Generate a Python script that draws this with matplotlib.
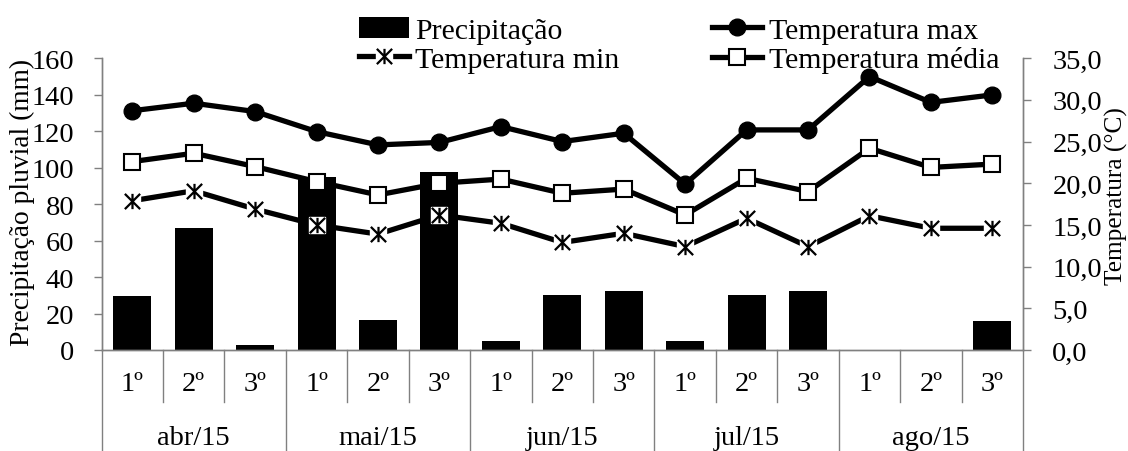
import matplotlib
matplotlib.use('Agg')
import matplotlib.pyplot as plt
import matplotlib.transforms as mtransforms
from matplotlib.path import Path
import numpy as np

plt.rcParams['font.family'] = ['Liberation Serif', 'DejaVu Serif']
plt.rcParams['font.size'] = 20.5

# Dados decendiais (abr a ago/2015)
meses = ['abr/15', 'mai/15', 'jun/15', 'jul/15', 'ago/15']
decendios = ['1º', '2º', '3º']
precipitacao = [29.5, 66.8, 2.7, 94.7, 16.5, 97.5, 4.8, 30.2, 32.5,
                4.8, 30.2, 32.5, 0.0, 0.0, 15.7]
temp_max = [28.7, 29.6, 28.6, 26.2, 24.6, 24.9, 26.8, 25.0, 26.0,
            19.9, 26.4, 26.4, 32.8, 29.7, 30.6]
temp_min = [17.9, 19.1, 16.9, 15.0, 13.9, 16.2, 15.2, 12.9, 14.0,
            12.4, 15.8, 12.4, 16.1, 14.6, 14.6]
temp_media = [22.6, 23.6, 22.0, 20.2, 18.6, 20.0, 20.5, 18.8, 19.3,
              16.2, 20.6, 19.0, 24.2, 21.9, 22.3]

x = np.arange(len(precipitacao))
cinza = '#808080'
lw = 3.8

# marcador estrela (X + traço vertical)
estrela = Path([(0, -1), (0, 1), (-1, -1), (1, 1), (-1, 1), (1, -1)],
               [Path.MOVETO, Path.LINETO, Path.MOVETO, Path.LINETO,
                Path.MOVETO, Path.LINETO])

fig = plt.figure(figsize=(11.28, 4.52), dpi=100)
ax = fig.add_axes([0.09, 0.2235, 0.817, 0.6455])
ax2 = ax.twinx()

barras = ax.bar(x, precipitacao, width=0.62, color='black', zorder=2,
                label='Precipitação')
ax.set_xlim(-0.5, len(x) - 0.5)
ax.set_ylim(0, 160)
ax.set_yticks(np.arange(0, 161, 20))

lmax, = ax2.plot(x, temp_max, color='black', lw=lw, marker='o', ms=12,
                 mfc='black', mec='black', label='Temperatura max', zorder=3)
# fundo branco sob as estrelas
lmin_fundo, = ax2.plot(x, temp_min, color='black', lw=lw, marker='s', ms=12,
                       mfc='white', mec='white', zorder=3)
lmin_estrela, = ax2.plot(x, temp_min, ls='none', marker=estrela, ms=11,
                         mew=1.6, mec='black', zorder=4)
lmed, = ax2.plot(x, temp_media, color='black', lw=lw, marker='s', ms=11.5,
                 mfc='white', mec='black', mew=1.5, label='Temperatura média',
                 zorder=3)
ax2.set_ylim(0, 35)
ax2.set_yticks(np.arange(0, 36, 5))
ax2.set_yticklabels([f'{v:.1f}'.replace('.', ',') for v in np.arange(0, 36, 5)])

for a in (ax, ax2):
    a.spines['top'].set_visible(False)
    for s in ('left', 'right', 'bottom'):
        a.spines[s].set_color(cinza)
        a.spines[s].set_linewidth(1.0)
    a.tick_params(axis='y', direction='out', length=6, width=1, color=cinza)
ax.tick_params(axis='y', pad=13.5)
ax2.tick_params(axis='y', pad=15)

# títulos dos eixos
fig.text(0.0195, 0.553, 'Precipitação pluvial (mm)', rotation=90,
         ha='center', va='center', fontsize=19.8)
fig.text(0.990, 0.566, 'Temperatura (°C)', rotation=90, ha='center',
         va='center', fontsize=18.3)

# eixo de categorias em dois níveis
ax.set_xticks([])
trans = mtransforms.blended_transform_factory(ax.transData, ax.transAxes)
for i in range(len(x)):
    ax.text(i, -0.115, decendios[i % 3], transform=trans, ha='center',
            va='center')
for i in range(len(x) + 1):
    fundo = -0.346 if i % 3 == 0 else -0.178
    ax.plot([i - 0.5, i - 0.5], [0, fundo], transform=trans, color=cinza,
            lw=1, clip_on=False)
for m, mes in enumerate(meses):
    ax.text(3 * m + 1, -0.30, mes, transform=trans, ha='center',
            va='center')

fig.legend([barras, (lmin_fundo, lmin_estrela), lmax, lmed],
           ['Precipitação', 'Temperatura min', 'Temperatura max',
            'Temperatura média'],
           ncol=2, loc='upper left', bbox_to_anchor=(0.310, 0.98),
           frameon=False, fontsize=21.5, handlelength=1.67,
           handletextpad=0.23, columnspacing=3.1, labelspacing=0.07,
           borderpad=0.1, borderaxespad=0.2)

fig.savefig('out.png', dpi=100)
